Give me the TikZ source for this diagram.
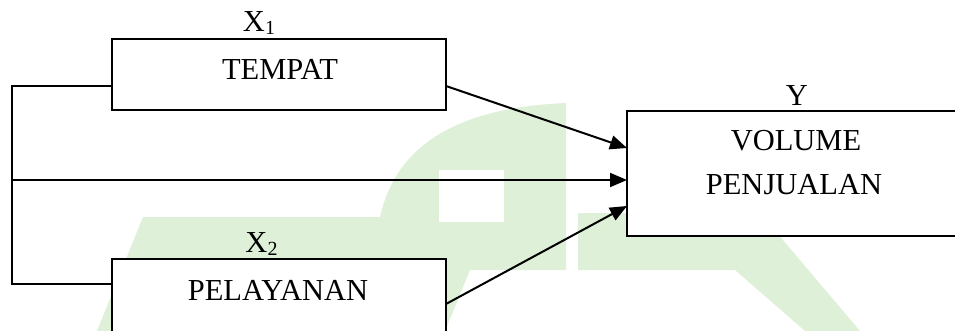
\documentclass[tikz,border=0pt]{standalone}
\usepackage{fontspec}
\setmainfont{Liberation Serif}
\usetikzlibrary{arrows.meta}
\definecolor{wm}{RGB}{222,240,216}
\newcommand\subidx[1]{\raisebox{-3pt}{\fontsize{20}{20}\selectfont #1}}
\begin{document}
\begin{tikzpicture}[x=1pt,y=-1pt,
  box/.style={draw, line width=2pt, fill=white, inner sep=0pt, outer sep=0pt, anchor=north west, rectangle},
  lbl/.style={font=\fontsize{30.5}{36}\selectfont, inner sep=0pt, anchor=base},
  conn/.style={line width=2pt},
  arr/.style={conn, -{Triangle[length=17pt,width=14pt]}}]
\path[use as bounding box] (0,0) rectangle (955,331);
\clip (0,0) rectangle (955,331);
\fill[white] (0,0) rectangle (955,331);
% watermark
\fill[wm] (97,331) -- (143,217) -- (380,217) .. controls (395,150) and (450,108) .. (566,103) -- (566,270) -- (470,270) -- (445,331) -- cycle;
\fill[white] (439,170) rectangle (504,222);
\fill[wm] (578,213) -- (760,213) -- (860,331) -- (805,331) -- (735,270) -- (578,270) -- cycle;
% boxes
\node[box, minimum width=334.5pt, minimum height=71pt] (b1) at (111.5,39) {};
\node[box, minimum width=334.5pt, minimum height=100pt] (b2) at (111.5,259) {};
\node[box, minimum width=400pt, minimum height=125pt] (by) at (627,111) {};
% texts
\node[lbl] (t1) at (280,80) {TEMPAT};
\node[lbl] (t2) at (278,300) {PELAYANAN};
\node[lbl] (ty1) at (796,151) {VOLUME};
\node[lbl] (ty2) at (794,194) {PENJUALAN};
\node[lbl] (x1) at (259,32) {X\subidx{1}};
\node[lbl] (x2) at (261.5,252) {X\subidx{2}};
\node[lbl] (yl) at (797,106) {Y};
% connectors
\coordinate (railtop) at (12,86);
\coordinate (railbot) at (12,284);
\coordinate (rail) at (12,180);
\draw[conn] ([yshift=-47pt]b1.north west) -- (railtop) -- (railbot) -- ([yshift=-25pt]b2.north west);
\draw[arr] (rail) -- ([yshift=-69pt]by.north west);
\draw[arr] ([yshift=-47pt]b1.north east) -- ([yshift=-37pt]by.north west);
\draw[arr] ([yshift=-45pt]b2.north east) -- ([yshift=-95pt]by.north west);
\end{tikzpicture}
\end{document}
